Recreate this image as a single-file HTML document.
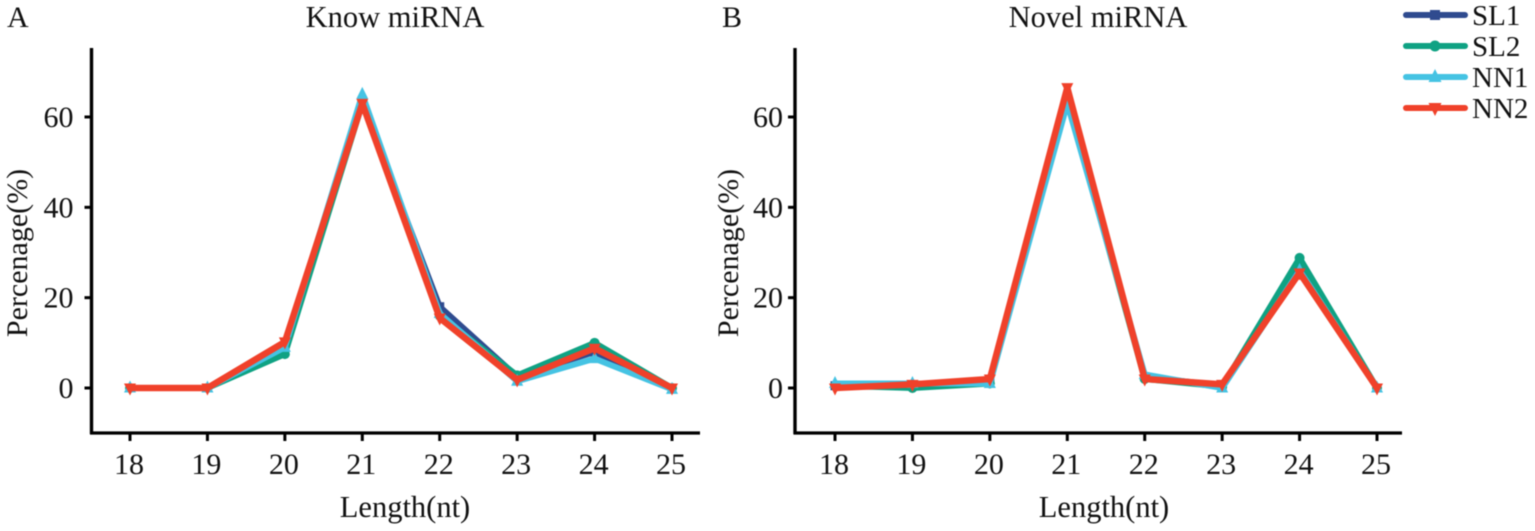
<!DOCTYPE html>
<html>
<head>
<meta charset="utf-8">
<style>
html,body{margin:0;padding:0;background:#fff;width:1535px;height:531px;overflow:hidden}
svg{display:block;filter:blur(0.45px)}
text{font-family:"Liberation Serif",serif;fill:#111}
</style>
</head>
<body>
<svg id="chart" width="1535" height="531" viewBox="0 0 1535 531" xmlns="http://www.w3.org/2000/svg"></svg>
<script>
const categories = [18, 19, 20, 21, 22, 23, 24, 25];
const yTickLabels = [0, 20, 40, 60];
const seriesNames = ['SL1', 'SL2', 'NN1', 'NN2'];
const knownSL1 = [0, 0, 8.5, 63, 18, 2.5, 8, 0];
const knownSL2 = [0, 0, 7.5, 63, 16, 2.8, 10, 0];
const knownNN1 = [0, 0, 9, 65, 16.5, 1.5, 6.5, -0.3];
const knownNN2 = [0, 0, 10.2, 63, 15.5, 1.8, 8.8, 0];
const novelSL1 = [0.5, 0.5, 1.5, 64, 2.5, 0.5, 27, 0];
const novelSL2 = [0.5, 0, 1, 64, 2, 0.3, 28.8, 0];
const novelNN1 = [1, 1, 1, 63, 3, 0, 26, 0];
const novelNN2 = [0, 0.8, 2, 66.5, 2, 0.8, 25.5, 0];

const colors = {SL1: '#2f4b8f', SL2: '#0fa283', NN1: '#45c3e3', NN2: '#f0412a'};
const svg = document.getElementById('chart');
const NS = 'http://www.w3.org/2000/svg';

function make(tag, attrs, parent) {
  const el = document.createElementNS(NS, tag);
  for (const k in attrs) el.setAttribute(k, attrs[k]);
  (parent || svg).appendChild(el);
  return el;
}
function yScale(v) { return 388 - v * 4.517; }

function marker(name, cx, cy, group, s) {
  const c = colors[name];
  let el;
  if (name === 'SL1') {
    el = make('rect', {x: cx - s, y: cy - s, width: 2 * s, height: 2 * s, fill: c}, group);
  } else if (name === 'SL2') {
    el = make('circle', {cx: cx, cy: cy, r: s + 0.5, fill: c}, group);
  } else if (name === 'NN1') {
    el = make('polygon', {points: `${cx},${cy - s - 3} ${cx + s + 1.5},${cy + s} ${cx - s - 1.5},${cy + s}`, fill: c}, group);
  } else {
    el = make('polygon', {points: `${cx},${cy + s + 3} ${cx + s + 1.5},${cy - s} ${cx - s - 1.5},${cy - s}`, fill: c}, group);
  }
  return el;
}

function drawPanel(cfg) {
  const g = make('g', {});
  
  
  const xScale = i => cfg.x0 + i * 77.43;

  const yAxis = make('line', {x1: cfg.axisX, x2: cfg.axisX, y1: 48, y2: 434, stroke: '#000', 'stroke-width': 3.4}, g);
  
  
  const xAxis = make('line', {x1: cfg.axisX - 1.5, x2: cfg.axisEnd, y1: 433, y2: 433, stroke: '#000', 'stroke-width': 3.2}, g);
  
  

  yTickLabels.forEach(v => {
    const y = yScale(v);
    const tick = make('line', {x1: cfg.axisX - 7, x2: cfg.axisX, y1: y, y2: y, stroke: '#000', 'stroke-width': 3}, g);
    
    
    const t = make('text', {x: cfg.axisX - cfg.labelGap, y: y + 10, 'text-anchor': 'end', 'font-size': 30}, g);
    t.textContent = v;
    
    
  });

  categories.forEach((c, i) => {
    const x = xScale(i);
    const tick = make('line', {x1: x, x2: x, y1: 433, y2: 441, stroke: '#000', 'stroke-width': 3}, g);
    
    
    const t = make('text', {x: x - 1, y: 474, 'text-anchor': 'middle', 'font-size': 30}, g);
    t.textContent = c;
    
    
  });

  seriesNames.forEach((name, si) => {
    const values = cfg.series[si];
    const sg = make('g', {}, g);
    
    
    const pts = values.map((v, i) => xScale(i) + ',' + yScale(v)).join(' ');
    make('polyline', {points: pts, fill: 'none', stroke: colors[name], 'stroke-width': name === 'NN2' ? 6.5 : 6, 'stroke-linejoin': 'round'}, sg);
    values.forEach((v, i) => marker(name, xScale(i), yScale(v), sg, 4.5));
  });

  const title = make('text', {x: cfg.titleX, y: 27, 'text-anchor': 'middle', 'font-size': 30.5}, g);
  title.textContent = cfg.title;
  
  

  const letter = make('text', {x: cfg.letterX, y: 27, 'font-size': 30}, g);
  letter.textContent = cfg.letter;
  
  

  const xTitle = make('text', {x: cfg.xTitleX, y: 517, 'text-anchor': 'middle', 'font-size': 30.5}, g);
  xTitle.textContent = 'Length(nt)';
  
  

  const yTitle = make('text', {x: 0, y: 0, 'text-anchor': 'middle', 'font-size': 30, transform: `translate(${cfg.yTitleX},253) rotate(-90)`}, g);
  yTitle.textContent = 'Percenage(%)';
  
  
}

drawPanel({id: 'known', title: 'Know miRNA', letter: 'A', letterX: 7, titleX: 395, xTitleX: 405, yTitleX: 27, axisX: 91.5, axisEnd: 700, labelGap: 18, x0: 130, series: [knownSL1, knownSL2, knownNN1, knownNN2]});
drawPanel({id: 'novel', title: 'Novel miRNA', letter: 'B', letterX: 722, titleX: 1098, xTitleX: 1104, yTitleX: 738, axisX: 795, axisEnd: 1402, labelGap: 12, x0: 835, series: [novelSL1, novelSL2, novelNN1, novelNN2]});

const legend = make('g', {});


seriesNames.forEach((name, i) => {
  const y = 15 + i * 31;
  const e = make('g', {}, legend);
  
  
  make('line', {x1: 1406, x2: 1465, y1: y, y2: y, stroke: colors[name], 'stroke-width': 6, 'stroke-linecap': 'round'}, e);
  marker(name, 1435, y, e, 5);
  const t = make('text', {x: 1472, y: y + 10, 'font-size': 29}, e);
  t.textContent = name;
});
</script>
</body>
</html>
